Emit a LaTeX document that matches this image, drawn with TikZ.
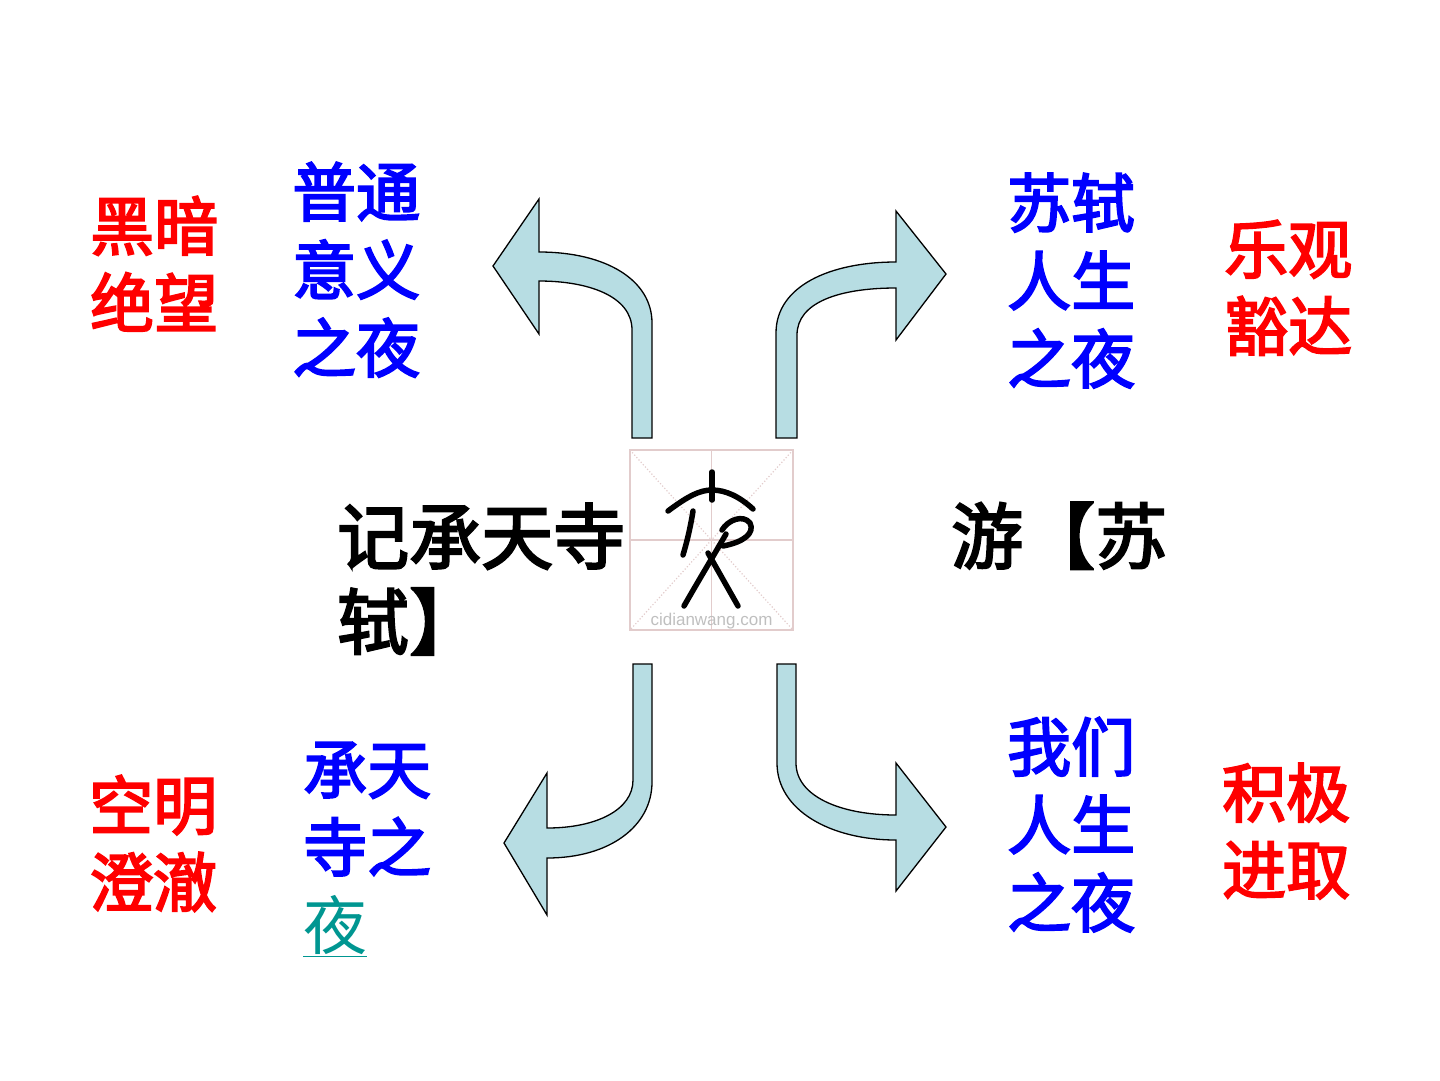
\documentclass[tikz,border=0pt]{standalone}
\usepackage{fontspec}
\setsansfont{Liberation Sans}
\newfontfamily\cjk{Noto Sans CJK SC}[FakeBold=3]
\newfontfamily\cjklight{Noto Sans CJK SC}
\usepackage{tikz}

\definecolor{arrowfill}{RGB}{183,221,227}
\definecolor{gridpink}{RGB}{226,204,204}
\definecolor{linkteal}{RGB}{0,150,145}

\begin{document}
\begin{tikzpicture}[x=1pt, y=-1pt,
    redtxt/.style={text=red, font=\cjk\fontsize{64}{77}\selectfont, align=left, anchor=north west, inner sep=0pt},
    bluetxt/.style={text=blue, font=\cjk\fontsize{64}{78}\selectfont, align=left, anchor=north west, inner sep=0pt},
    titletxt/.style={text=black, font=\cjk\fontsize{72}{85}\selectfont, align=left, anchor=north west, inner sep=0pt},
    bentarrow/.style={fill=arrowfill, draw=black, line width=1.3pt, line join=miter},
    sealstroke/.style={line width=5.5pt, line cap=round, line join=round}]
    \useasboundingbox (0,0) rectangle (1440,1080);
    % bent arrows
    \draw[bentarrow] (632,438) -- (632,330) .. controls (632,296) and (588,281) .. (539,281) -- (539,334) -- (493,266) -- (539,199) -- (539,252) .. controls (606,252) and (652,280) .. (652,323) -- (652,438) -- cycle;
    \draw[bentarrow] (776,438) -- (776,333) .. controls (776,286) and (830,262) .. (896,262) -- (896,211) -- (946,274) -- (896,340) -- (896,288) .. controls (840,288) and (797,302) .. (797,335) -- (797,438) -- cycle;
    \draw[bentarrow] (633,664) -- (633,780) .. controls (633,810) and (596,828) .. (547,828) -- (547,773) -- (504,843) -- (547,915) -- (547,858) .. controls (610,858) and (652,826) .. (652,782) -- (652,664) -- cycle;
    \draw[bentarrow] (777,664) -- (777,763) .. controls (777,810) and (830,840) .. (896,840) -- (896,891) -- (946,827) -- (896,763) -- (896,815) .. controls (840,815) and (796,796) .. (796,763) -- (796,664) -- cycle;
    % seal picture of the character
    \draw[gridpink, line width=1.2pt] (630,450) rectangle (793,630);
    \draw[gridpink, line width=1.2pt] (711.5,450) -- (711.5,630) (630,540) -- (793,540);
    \draw[gridpink, line width=1.2pt, dotted] (630,450) -- (793,630) (793,450) -- (630,630);
    \node[text=black!25, font=\sffamily\fontsize{17}{17}\selectfont, inner sep=0pt] (mark) at (711.5,621) {cidianwang.com};
    \draw[sealstroke] (712,472) -- (712,500);
    \draw[sealstroke] (668,511) .. controls (688,496) and (700,490) .. (712,490) .. controls (726,490) and (740,497) .. (753,509);
    \draw[sealstroke] (693,511) .. controls (690,530) and (686,545) .. (683,555);
    \draw[sealstroke] (722,530) .. controls (728,520) and (743,514) .. (750,523) .. controls (755,533) and (744,542) .. (723,546);
    \draw[sealstroke] (726,534) .. controls (714,555) and (700,578) .. (684,606);
    \draw[sealstroke] (708,553) -- (738,606);
    % texts
    \node[redtxt] (dark) at (90,196) {黑暗\\绝望};
    \node[bluetxt] (common) at (292,162) {普通\\意义\\之夜};
    \node[bluetxt] (sushi) at (1007,173) {苏轼\\人生\\之夜};
    \node[redtxt] (bright) at (1224,220) {乐观\\豁达};
    \node[titletxt] (titleL) at (337,503) {记承天寺\\轼】};
    \node[titletxt] (titleR) at (951,502) {游【苏};
    \node[redtxt] (clear) at (89,775) {空明\\澄澈};
    \node[bluetxt] (temple) at (303,742) {承天\\寺之\\\textcolor{linkteal}{\cjklight\underline{夜}}};
    \node[bluetxt] (ours) at (1007,717) {我们\\人生\\之夜};
    \node[redtxt] (active) at (1222,763) {积极\\进取};
\end{tikzpicture}
\end{document}
